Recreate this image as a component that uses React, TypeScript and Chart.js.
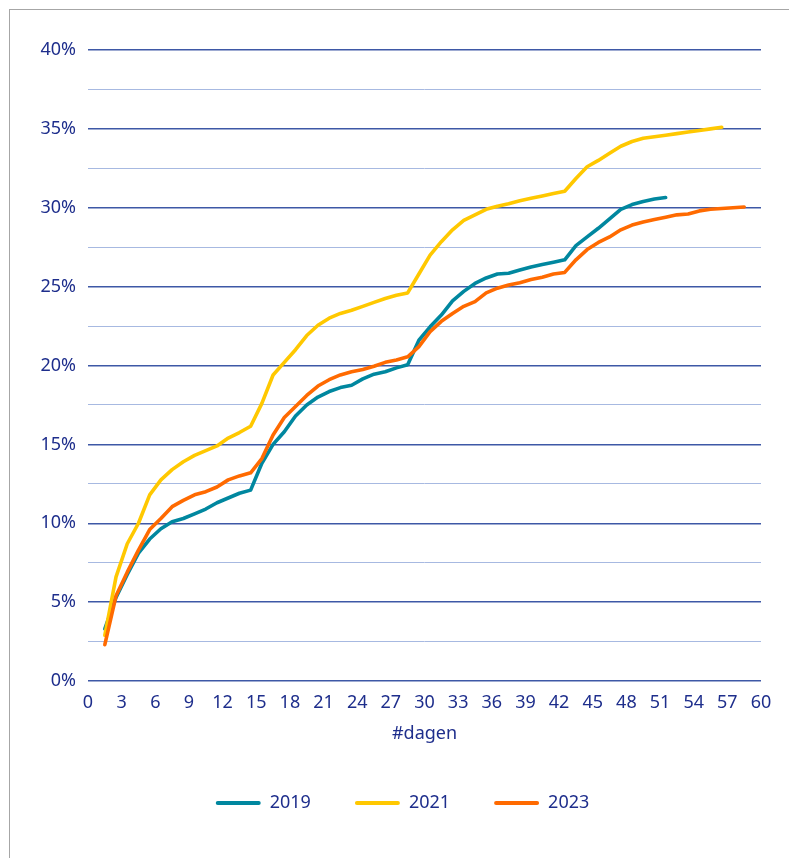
import React, { useEffect, useRef } from "react";
import { Chart, registerables } from "chart.js";

Chart.register(...registerables);

const days = [
  1.5, 2.5, 3.5, 4.5, 5.5, 6.5, 7.5, 8.5, 9.5, 10.5,
  11.5, 12.5, 13.5, 14.5, 15.5, 16.5, 17.5, 18.5, 19.5, 20.5,
  21.5, 22.5, 23.5, 24.5, 25.5, 26.5, 27.5, 28.5, 29.5, 30.5,
  31.5, 32.5, 33.5, 34.5, 35.5, 36.5, 37.5, 38.5, 39.5, 40.5,
  41.5, 42.5, 43.5, 44.5, 45.5, 46.5, 47.5, 48.5, 49.5, 50.5,
  51.5, 52.5, 53.5, 54.5, 55.5, 56.5, 57.5, 58.5,
];

const values2019 = [
  3.3, 5.3, 6.75, 8.1, 9.0, 9.65, 10.1, 10.3, 10.6, 10.9,
  11.3, 11.6, 11.9, 12.1, 13.8, 15.0, 15.8, 16.8, 17.5, 18.0,
  18.35, 18.6, 18.75, 19.15, 19.45, 19.6, 19.85, 20.05, 21.6, 22.45,
  23.2, 24.1, 24.7, 25.2, 25.55, 25.8, 25.85, 26.05, 26.25, 26.4,
  26.55, 26.7, 27.6, 28.15, 28.7, 29.3, 29.9, 30.2, 30.4, 30.55,
  30.65,
];

const values2021 = [
  2.9, 6.6, 8.7, 10.0, 11.8, 12.75, 13.4, 13.9, 14.3, 14.6,
  14.9, 15.4, 15.75, 16.15, 17.6, 19.4, 20.2, 21.0, 21.9, 22.55,
  23.0, 23.3, 23.5, 23.75, 24.0, 24.25, 24.45, 24.6, 25.8, 27.0,
  27.85, 28.6, 29.2, 29.55, 29.9, 30.1, 30.25, 30.45, 30.6, 30.75,
  30.9, 31.05, 31.85, 32.6, 33.0, 33.45, 33.9, 34.2, 34.4, 34.5,
  34.6, 34.7, 34.8, 34.9, 35.0, 35.1,
];

const values2023 = [
  2.3, 5.4, 6.9, 8.3, 9.6, 10.3, 11.05, 11.45, 11.8, 12.0,
  12.3, 12.75, 13.0, 13.2, 14.1, 15.6, 16.7, 17.4, 18.1, 18.7,
  19.1, 19.4, 19.6, 19.75, 19.95, 20.2, 20.35, 20.55, 21.2, 22.15,
  22.8, 23.3, 23.75, 24.05, 24.6, 24.9, 25.1, 25.25, 25.45, 25.6,
  25.8, 25.9, 26.7, 27.35, 27.8, 28.15, 28.6, 28.9, 29.1, 29.25,
  29.4, 29.55, 29.6, 29.8, 29.9, 29.95, 30.0, 30.05,
];

const seriesLabels = ["2019", "2021", "2023"];
const seriesColors = ["#00879F", "#FFC800", "#FF6A00"];
const xTitle = "#dagen";

const TEXT = "#1E2E8C";
const GRID_MAJOR = "#3E58A6";
const GRID_MINOR = "#A7B9E1";
const FONT = "'Noto Sans', 'DejaVu Sans', sans-serif";

function toPoints(vals: number[]) {
  return vals.map((v, i) => ({ x: days[i], y: v }));
}

export default function App() {
  const ref = useRef<HTMLCanvasElement | null>(null);

  useEffect(() => {
    if (!ref.current) return;
    const allValues = [values2019, values2021, values2023];
    const chart = new Chart(ref.current, {
      type: "line",
      data: {
        datasets: allValues.map((vals, i) => ({
          label: seriesLabels[i],
          data: toPoints(vals),
          borderColor: seriesColors[i],
          backgroundColor: seriesColors[i],
          borderWidth: 3.6,
          pointRadius: 0,
          tension: 0,
          borderJoinStyle: "round" as const,
          borderCapStyle: "round" as const,
          order: 2 - i,
          fill: false,
        })),
      },
      options: {
        animation: false,
        responsive: false,
        devicePixelRatio: 1,
        layout: { padding: { top: 41, right: 0, bottom: 36, left: 0 } },
        plugins: {
          tooltip: { enabled: false },
          legend: {
            position: "bottom",
            labels: {
              color: TEXT,
              font: { family: FONT, size: 18 },
              boxWidth: 45,
              boxHeight: 4,
              padding: 44,
              sort: (a: any, b: any) => a.datasetIndex - b.datasetIndex,
              generateLabels: (c: any) =>
                Chart.defaults.plugins.legend.labels
                  .generateLabels(c)
                  .map((it: any) => ({
                    ...it,
                    fillStyle: seriesColors[it.datasetIndex],
                    strokeStyle: seriesColors[it.datasetIndex],
                    lineWidth: 0,
                    borderRadius: 2,
                  })),
            },
          },
        },
        scales: {
          x: {
            type: "linear",
            min: 0,
            max: 60,
            grid: { display: false, drawTicks: false },
            border: { display: false },
            ticks: {
              stepSize: 3,
              color: TEXT,
              font: { family: FONT, size: 18 },
              padding: 11,
              maxRotation: 0,
              autoSkip: false,
            },
            title: {
              display: true,
              text: xTitle,
              color: TEXT,
              font: { family: FONT, size: 18 },
              padding: { top: 0, bottom: 5 },
            },
            afterFit: (s: any) => {
              s.height = 69;
            },
          },
          y: {
            type: "linear",
            min: 0,
            max: 40,
            grid: {
              drawTicks: false,
              color: (ctx: any) =>
                ctx.tick && ctx.tick.value % 5 === 0 ? GRID_MAJOR : GRID_MINOR,
              lineWidth: (ctx: any) =>
                ctx.tick && ctx.tick.value % 5 === 0 ? 1.5 : 1,
            },
            border: { display: false },
            ticks: {
              stepSize: 2.5,
              color: TEXT,
              font: { family: FONT, size: 18 },
              padding: 12,
              autoSkip: false,
              callback: (v: any) => (Number(v) % 5 === 0 ? v + "%" : ""),
            },
            afterFit: (s: any) => {
              s.width = 79;
            },
          },
          yRight: {
            type: "linear",
            position: "right",
            grid: { display: false, drawTicks: false },
            border: { display: false },
            ticks: { display: false },
            afterFit: (s: any) => {
              s.width = 35;
            },
          },
        },
      },
    } as any);
    return () => chart.destroy();
  }, []);

  return (
    <div>
      <div
        style={{
          position: "fixed",
          left: 9,
          top: 9,
          width: 900,
          height: 900,
          borderLeft: "1px solid #A6A6A6",
          borderTop: "1px solid #A6A6A6",
          boxSizing: "border-box",
        }}
      />
      <canvas
        ref={ref}
        width={787}
        height={849}
        style={{ position: "fixed", left: 9, top: 9, width: 787, height: 849 }}
      />
    </div>
  );
}
